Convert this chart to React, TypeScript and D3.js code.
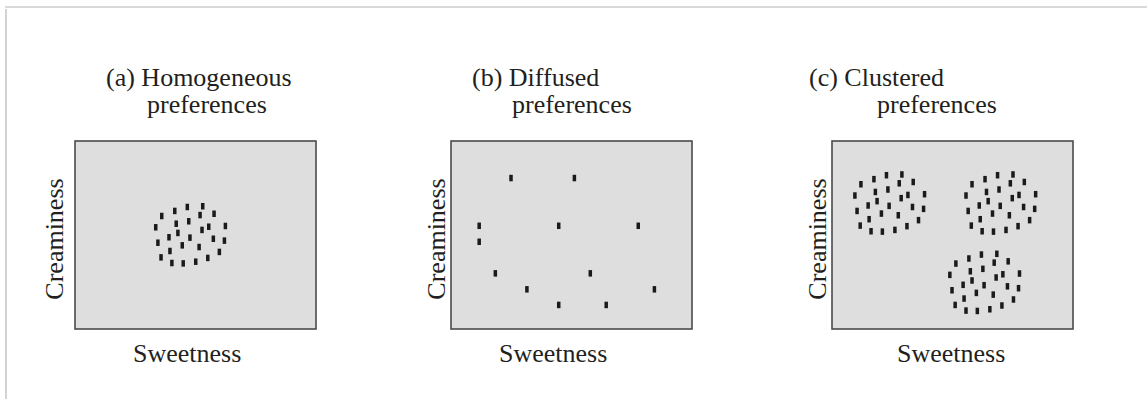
import React from "react";
import * as d3 from "d3";

// Sweetness (0–100) and creaminess (0–100) of each respondent's ideal point
const homogeneousSweet = [46.6, 53.0, 41.4, 51.9, 57.7, 36.0, 42.0, 47.2, 33.5, 42.7, 52.7, 55.5, 62.4, 39.0, 47.7, 57.4, 62.0, 34.4, 44.5, 51.5, 39.4, 59.9, 35.7, 55.1, 40.2, 44.9, 50.1];
const homogeneousCream = [64.9, 65.3, 62.8, 60.6, 61.3, 60.1, 56.0, 57.3, 54.1, 51.1, 52.7, 54.4, 54.8, 48.8, 48.6, 48.0, 47.0, 45.9, 44.5, 43.6, 41.5, 41.0, 38.1, 37.8, 35.1, 34.9, 35.8];

const diffusedSweet = [24.9, 51.2, 11.7, 44.7, 77.7, 11.7, 18.4, 57.8, 31.5, 84.4, 44.7, 64.4];
const diffusedCream = [80.3, 80.3, 54.9, 54.9, 54.9, 46.4, 29.6, 29.6, 21.1, 21.1, 12.8, 12.8];

const clusteredSweet = [
  // upper-left segment
  22.6, 29.0, 17.4, 27.9, 33.7, 12.0, 18.0, 23.2, 9.5, 18.7, 28.7, 31.5, 38.4, 15.0, 23.7, 33.4, 38.0, 10.4, 20.5, 27.5, 15.4, 35.9, 11.7, 31.1, 16.2, 20.9, 26.1,
  // upper-right segment
  68.7, 75.1, 63.5, 74.0, 79.8, 58.1, 64.1, 69.3, 55.6, 64.8, 74.8, 77.6, 84.5, 61.1, 69.8, 79.5, 84.1, 56.5, 66.6, 73.6, 61.5, 82.0, 57.8, 77.2, 62.3, 67.0, 72.2,
  // lower segment
  62.0, 68.4, 56.8, 67.3, 73.1, 51.4, 57.4, 62.6, 48.9, 58.1, 68.1, 70.9, 77.8, 54.4, 63.1, 72.8, 77.4, 49.8, 59.9, 66.9, 54.8, 75.3, 51.1, 70.5, 55.6, 60.3, 65.5,
];
const clusteredCream = [
  81.8, 82.2, 79.7, 77.5, 78.2, 77.0, 72.9, 74.2, 71.0, 68.0, 69.6, 71.3, 71.7, 65.7, 65.5, 64.9, 63.9, 62.8, 61.4, 60.5, 58.4, 57.9, 55.0, 54.7, 52.0, 51.8, 52.7,
  81.8, 82.2, 79.7, 77.5, 78.2, 77.0, 72.9, 74.2, 71.0, 68.0, 69.6, 71.3, 71.7, 65.7, 65.5, 64.9, 63.9, 62.8, 61.4, 60.5, 58.4, 57.9, 55.0, 54.7, 52.0, 51.8, 52.7,
  39.6, 40.0, 37.5, 35.3, 36.0, 34.8, 30.7, 32.0, 28.8, 25.8, 27.4, 29.1, 29.5, 23.5, 23.3, 22.7, 21.7, 20.6, 19.2, 18.3, 16.2, 15.7, 12.8, 12.5, 9.8, 9.6, 10.5,
];

const titleLine1 = ["(a) Homogeneous", "(b) Diffused", "(c) Clustered"];
const titleLine2 = ["preferences", "preferences", "preferences"];
const xLabel = "Sweetness";
const yLabel = "Creaminess";

const W = 1147;
const H = 399;
const FONT = "'Liberation Serif', 'Times New Roman', serif";

type PanelLayout = {
  x0: number;
  y0: number;
  w: number;
  h: number;
  t1x: number;
  t2x: number;
  sx: number;
  cx: number;
};

const layouts: PanelLayout[] = [
  { x0: 75, y0: 141, w: 241, h: 188, t1x: 106, t2x: 147, sx: 133, cx: 63 },
  { x0: 451, y0: 141, w: 241, h: 188, t1x: 472, t2x: 512, sx: 499, cx: 445 },
  { x0: 832, y0: 141, w: 241, h: 188, t1x: 809, t2x: 877, sx: 897, cx: 826 },
];

const panelData = [
  { s: homogeneousSweet, c: homogeneousCream },
  { s: diffusedSweet, c: diffusedCream },
  { s: clusteredSweet, c: clusteredCream },
];

function Panel({ i }: { i: number }) {
  const L = layouts[i];
  const d = panelData[i];
  const x = d3.scaleLinear().domain([0, 100]).range([L.x0, L.x0 + L.w]);
  const y = d3.scaleLinear().domain([0, 100]).range([L.y0 + L.h, L.y0]);
  const dw = 3.5;
  const dh = 6.5;
  const midY = L.y0 + L.h / 2 + 4;
  return (
    <g>
      <text x={L.t1x} y={86} fontSize={26} fill="#231f20" fontFamily={FONT}>
        {titleLine1[i]}
      </text>
      <text x={L.t2x} y={113} fontSize={26} fill="#231f20" fontFamily={FONT}>
        {titleLine2[i]}
      </text>
      <rect
        x={L.x0}
        y={L.y0}
        width={L.w}
        height={L.h}
        fill="#dedede"
        stroke="#4a4a4a"
        strokeWidth={1.6}
      />
      {d.s.map((sv, k) => (
        <rect
          key={k}
          x={x(sv) - dw / 2}
          y={y(d.c[k]) - dh / 2}
          width={dw}
          height={dh}
          fill="#1a1a1a"
        />
      ))}
      <text x={L.sx} y={362} fontSize={26} fill="#231f20" fontFamily={FONT}>
        {xLabel}
      </text>
      <text
        transform={`translate(${L.cx},${midY}) rotate(-90)`}
        textAnchor="middle"
        fontSize={26}
        fill="#231f20"
        fontFamily={FONT}
      >
        {yLabel}
      </text>
    </g>
  );
}

export default function App() {
  return (
    <svg
      width={W}
      height={H}
      style={{ position: "absolute", left: 0, top: 0, display: "block", background: "#fff" }}
    >
      <line x1={5} y1={7} x2={W} y2={7} stroke="#b4b4b4" strokeWidth={1.2} />
      <line x1={6} y1={9} x2={6} y2={H} stroke="#b4b4b4" strokeWidth={1.2} />
      {[0, 1, 2].map((i) => (
        <Panel key={i} i={i} />
      ))}
    </svg>
  );
}
